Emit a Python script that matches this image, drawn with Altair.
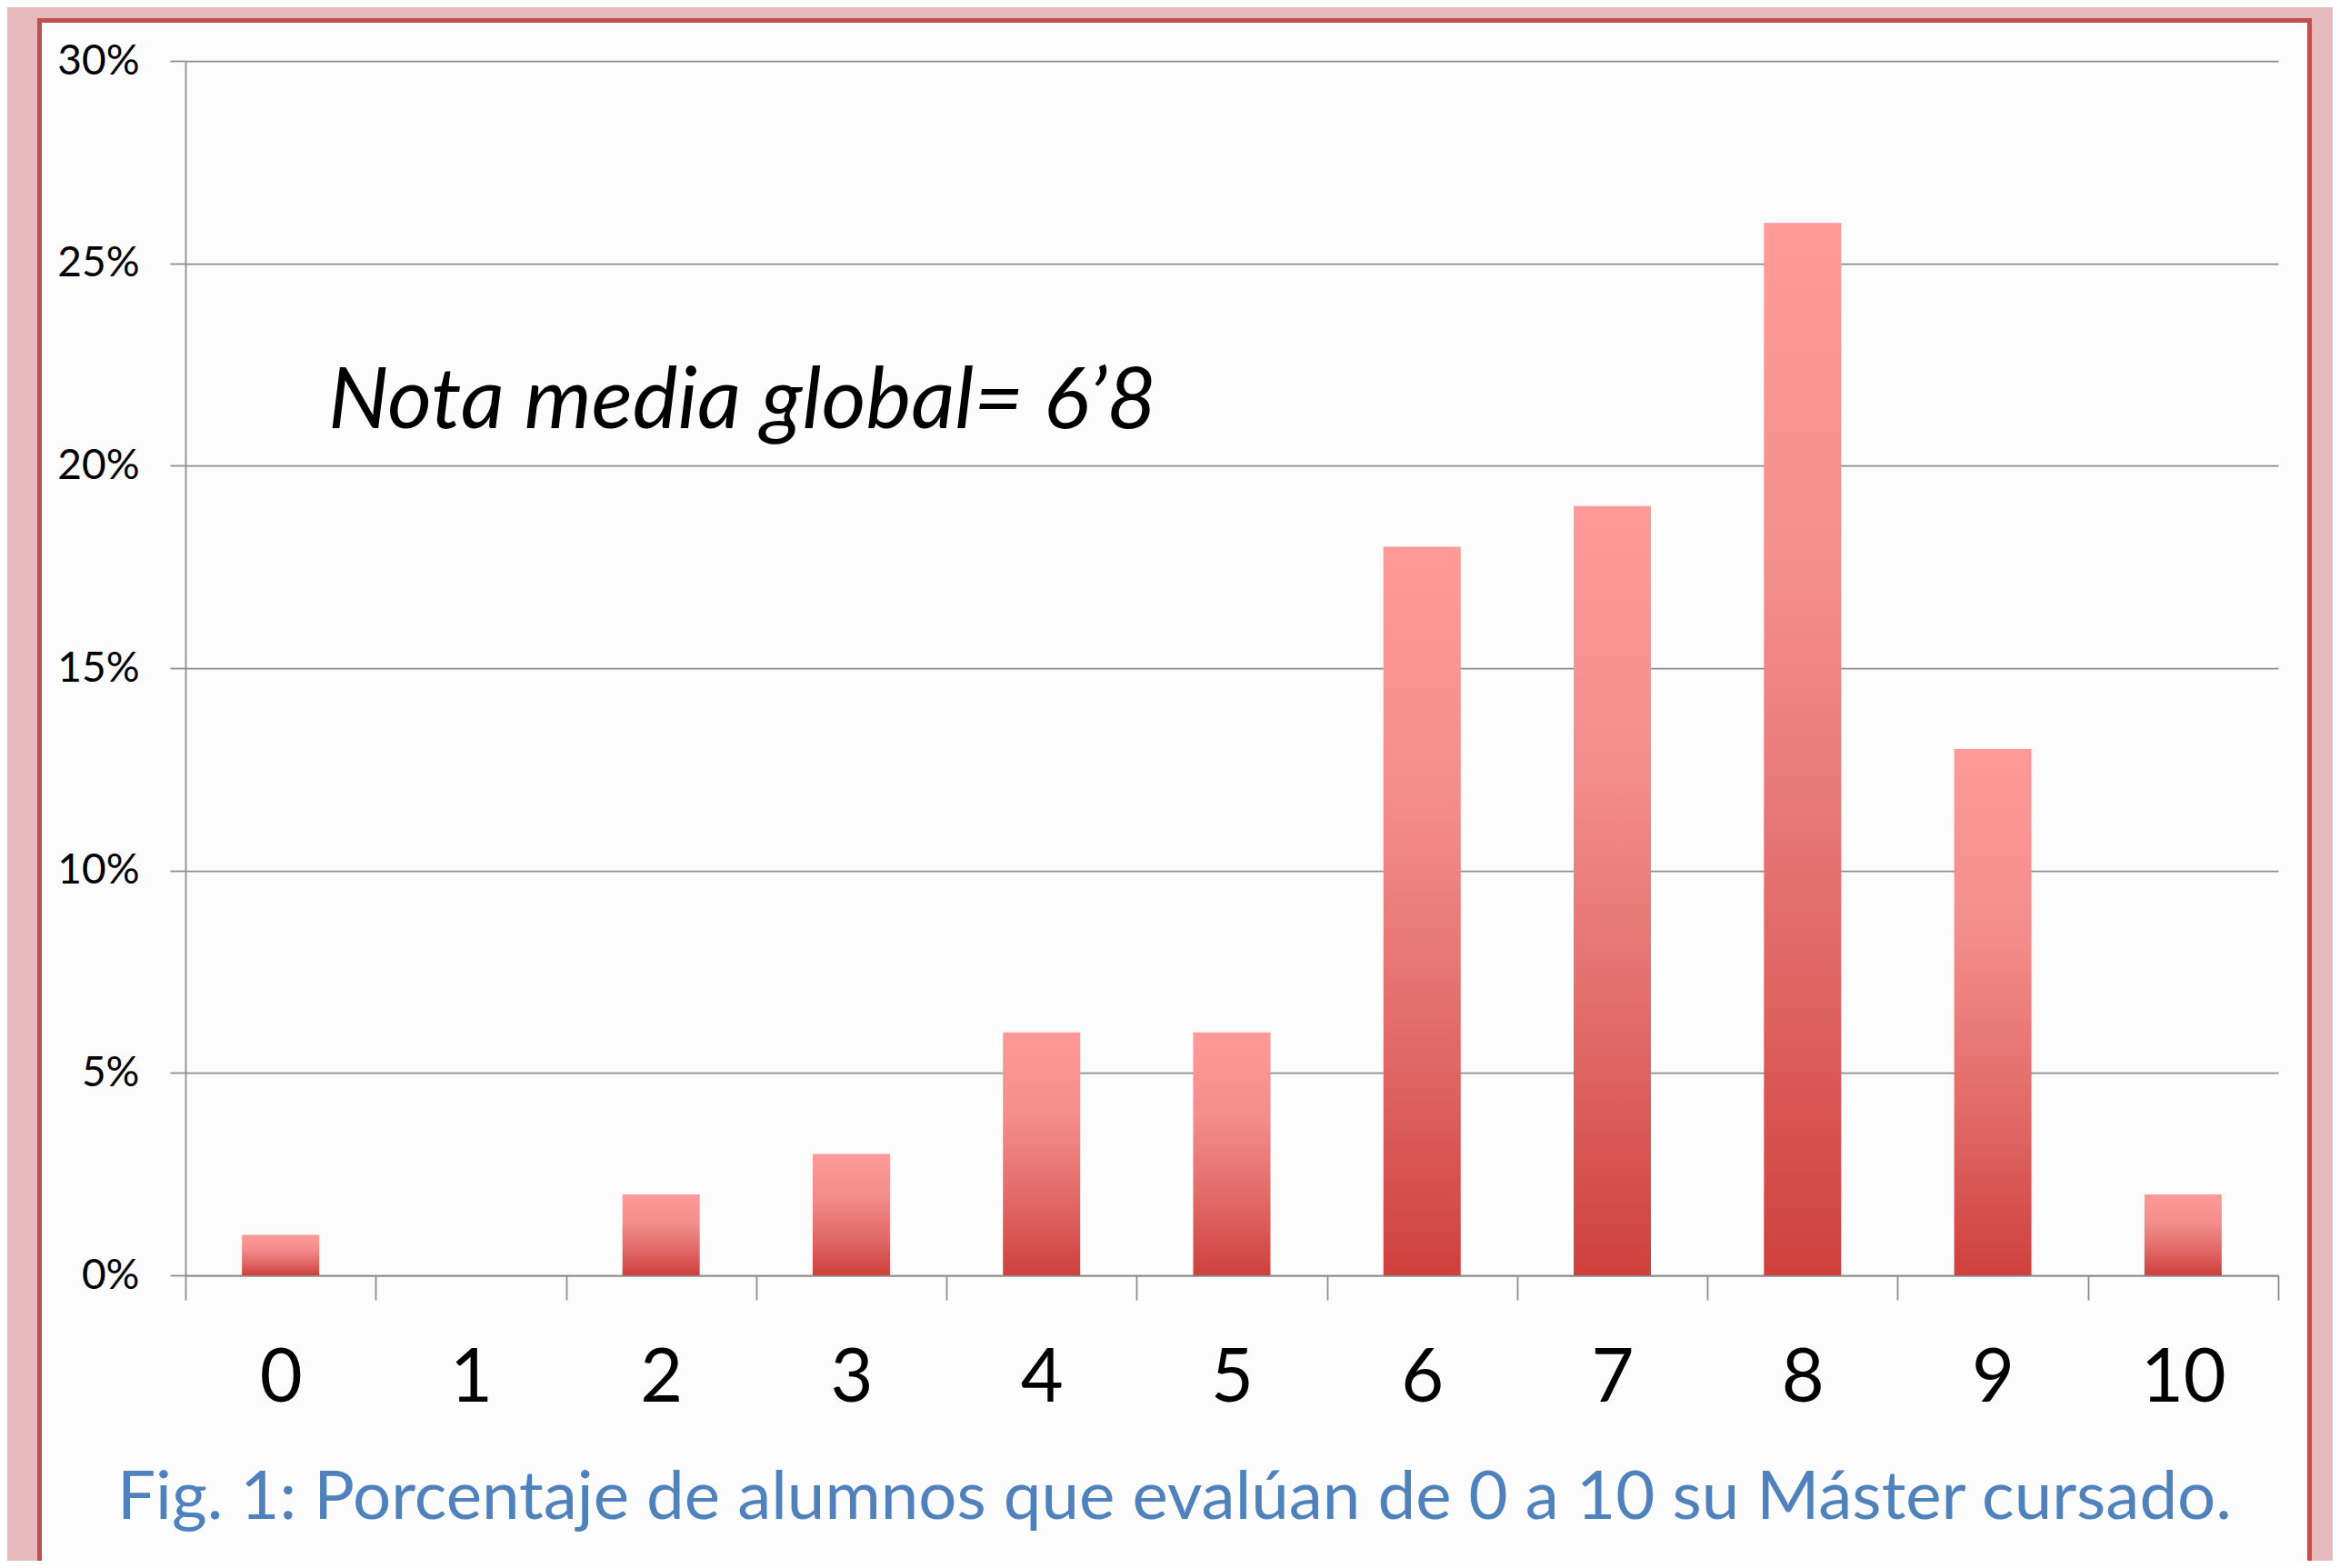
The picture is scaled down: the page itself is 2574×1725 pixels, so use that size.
import altair as alt
import pandas as pd

# ---- data ----
notas = ["0", "1", "2", "3", "4", "5", "6", "7", "8", "9", "10"]
porcentajes = [1, 0, 2, 3, 6, 6, 18, 19, 26, 13, 2]
y_ticks = [0, 5, 10, 15, 20, 25, 30]
anotacion = "Nota media global= 6\u20198"
pie = "Fig. 1: Porcentaje de alumnos que evalúan de 0 a 10 su Máster cursado."

df = pd.DataFrame({"nota": notas, "pct": porcentajes})

W, H = 2302, 1336
FONT = "Lato"
PINK = "#e7babd"
RED = "#c0504d"
GRID = "#8c8c8c"

grad = alt.LinearGradient(
    gradient="linear",
    x1=0, y1=0, x2=0, y2=1,
    stops=[
        alt.GradientStop(color="#ff9a99", offset=0),
        alt.GradientStop(color="#f38d8b", offset=0.35),
        alt.GradientStop(color="#e06866", offset=0.7),
        alt.GradientStop(color="#ce403c", offset=1),
    ],
)

bars = alt.Chart(df).mark_bar(size=85, color=grad).encode(
    x=alt.X(
        "nota:N",
        sort=notas,
        scale=alt.Scale(paddingInner=0, paddingOuter=0),
        axis=alt.Axis(
            title=None,
            labelAngle=0,
            labelFont=FONT,
            labelFontSize=81,
            labelColor="black",
            labelBaseline="alphabetic",
            labelPadding=111,
            tickBand="extent",
            tickSize=27,
            tickColor=GRID,
            tickWidth=1.75,
            domainColor=GRID,
            domainWidth=1.75,
            grid=False,
        ),
    ),
    y=alt.Y(
        "pct:Q",
        scale=alt.Scale(domain=[0, 30], nice=False),
        axis=alt.Axis(
            title=None,
            values=y_ticks,
            labelExpr="datum.value + '%'",
            labelFont=FONT,
            labelFontSize=46,
            labelColor="black",
            labelPadding=34,
            tickSize=17,
            tickColor=GRID,
            tickWidth=1.75,
            domainColor=GRID,
            domainWidth=1.75,
            grid=True,
            gridColor=GRID,
            gridWidth=1.75,
        ),
    ),
)

one = pd.DataFrame({"d": [0]})


def deco(x1, x2, y1, y2, color):
    return alt.Chart(one).mark_rect(color=color).encode(
        x=alt.value(x1), x2=alt.value(x2), y=alt.value(y1), y2=alt.value(y2)
    )


frame = [
    deco(-196, -163, -59, 1700, PINK),
    deco(-163, -158, -47, 1700, RED),
    deco(-196, 2362, -59, -47, PINK),
    deco(-163, 2339, -47, -42, RED),
    deco(2334, 2339, -47, 1700, RED),
    deco(2339, 2362, -59, 1700, PINK),
]

note = alt.Chart(one).mark_text(
    font=FONT, fontSize=94, fontStyle="italic", align="left", baseline="alphabetic", color="black"
).encode(x=alt.value(157), y=alt.value(404), text=alt.value(anotacion))

caption = alt.Chart(one).mark_text(
    font=FONT, fontSize=74.5, align="center", baseline="alphabetic", color="#4f81bd"
).encode(x=alt.value(1088), y=alt.value(1604), text=alt.value(pie))

chart = alt.layer(bars, note, caption, *frame).properties(
    width=W,
    height=H,
    autosize=alt.AutoSizeParams(type="none"),
    padding={"left": 196, "top": 59, "right": 60, "bottom": 314},
    background="#fdfcfc",
).configure_view(stroke=None)

chart.save("out.html", embed_options={"renderer": "svg", "actions": False})
